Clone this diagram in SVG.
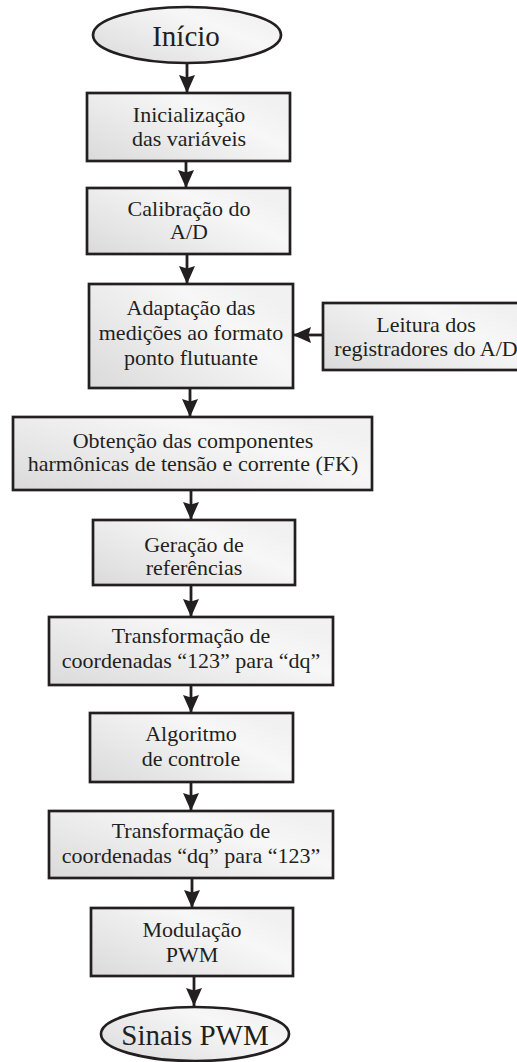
<svg xmlns="http://www.w3.org/2000/svg" width="517" height="1062" viewBox="0 0 517 1062">
<style>
.box{stroke:#231f20;stroke-width:2.7;fill:url(#g)}
.t{font-family:"Liberation Serif","Times New Roman",serif;font-size:22px;fill:#231f20;text-anchor:middle}
.te{font-family:"Liberation Serif","Times New Roman",serif;font-size:29px;fill:#231f20;text-anchor:middle}
.c{stroke:#231f20;stroke-width:2.8;fill:none;marker-end:url(#ah)}
</style>
<defs>
<linearGradient id="g" x1="0" y1="1" x2="1" y2="0.3">
<stop offset="0" stop-color="#dadada"/>
<stop offset="0.75" stop-color="#f7f7f7"/>
<stop offset="1" stop-color="#f1f1f1"/>
</linearGradient>
<marker id="ah" markerUnits="userSpaceOnUse" markerWidth="18" markerHeight="16" refX="18" refY="8" orient="auto">
<path d="M0,0 L18,8 L0,16 L2.5,8 z" fill="#231f20"/>
</marker>
</defs>
<rect width="517" height="1062" fill="#ffffff"/>
<g id="connectors">
<line class="c" x1="187" y1="63" x2="187" y2="93"/>
<line class="c" x1="186" y1="161" x2="186" y2="188"/>
<line class="c" x1="187" y1="254" x2="187" y2="284"/>
<line class="c" x1="323" y1="335" x2="293" y2="335"/>
<line class="c" x1="190" y1="388" x2="190" y2="417"/>
<line class="c" x1="191" y1="490" x2="191" y2="520"/>
<line class="c" x1="191" y1="585" x2="191" y2="617"/>
<line class="c" x1="191" y1="685" x2="191" y2="713"/>
<line class="c" x1="191" y1="782" x2="191" y2="811"/>
<line class="c" x1="192" y1="878" x2="192" y2="908"/>
<line class="c" x1="194" y1="976" x2="194" y2="1006"/>
</g>
<g id="inicio">
<ellipse class="box" cx="187" cy="35" rx="94" ry="28"/>
<text class="te" x="186" y="46">Início</text>
</g>
<g id="inicializacao">
<rect class="box" x="87" y="93" width="203" height="68"/>
<text class="t" x="189" y="122">Inicialização</text>
<text class="t" x="189" y="146">das variáveis</text>
</g>
<g id="calibracao">
<rect class="box" x="87" y="188" width="203" height="66"/>
<text class="t" x="189" y="216">Calibração do</text>
<text class="t" x="189" y="239">A/D</text>
</g>
<g id="adaptacao">
<rect class="box" x="89" y="284" width="204" height="104"/>
<text class="t" x="191" y="315">Adaptação das</text>
<text class="t" x="191" y="340">medições ao formato</text>
<text class="t" x="191" y="365">ponto flutuante</text>
</g>
<g id="leitura">
<rect class="box" x="323" y="303" width="207" height="67"/>
<text class="t" x="426" y="332">Leitura dos</text>
<text class="t" x="426" y="356">registradores do A/D</text>
</g>
<g id="obtencao">
<rect class="box" x="13" y="417" width="359" height="73"/>
<text class="t" x="193" y="448">Obtenção das componentes</text>
<text class="t" x="193" y="471">harmônicas de tensão e corrente (FK)</text>
</g>
<g id="geracao">
<rect class="box" x="93" y="520" width="202" height="65"/>
<text class="t" x="194" y="552">Geração de</text>
<text class="t" x="194" y="575">referências</text>
</g>
<g id="transf123dq">
<rect class="box" x="49" y="617" width="284" height="68"/>
<text class="t" x="191" y="643">Transformação de</text>
<text class="t" x="191" y="668">coordenadas “123” para “dq”</text>
</g>
<g id="algoritmo">
<rect class="box" x="90" y="713" width="203" height="69"/>
<text class="t" x="191" y="741">Algoritmo</text>
<text class="t" x="191" y="766">de controle</text>
</g>
<g id="transfdq123">
<rect class="box" x="49" y="811" width="284" height="67"/>
<text class="t" x="191" y="838">Transformação de</text>
<text class="t" x="191" y="863">coordenadas “dq” para “123”</text>
</g>
<g id="modulacao">
<rect class="box" x="91" y="908" width="202" height="68"/>
<text class="t" x="192" y="937">Modulação</text>
<text class="t" x="192" y="962">PWM</text>
</g>
<g id="sinais">
<ellipse class="box" cx="195" cy="1034" rx="94" ry="27"/>
<text class="te" x="195" y="1045">Sinais PWM</text>
</g>
</svg>
